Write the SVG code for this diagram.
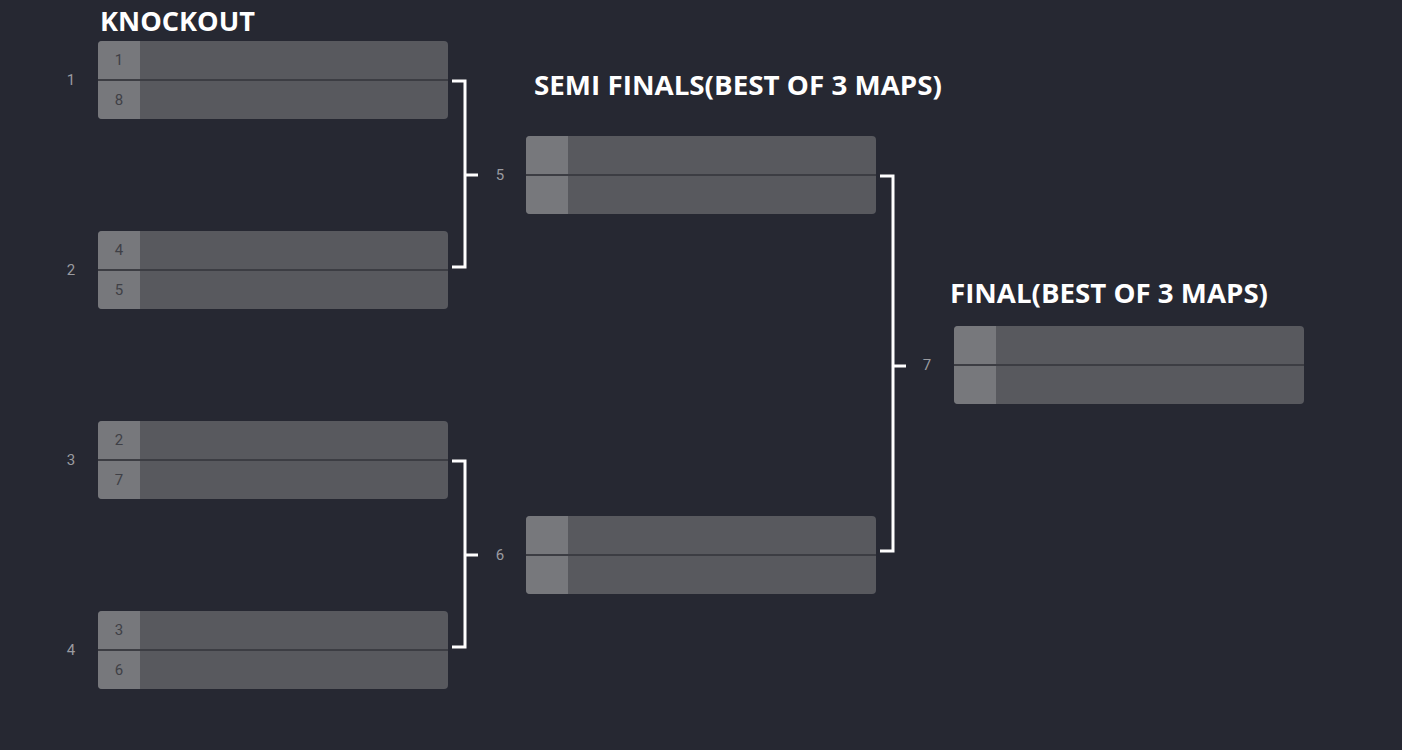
<svg xmlns="http://www.w3.org/2000/svg" width="1402" height="750" viewBox="0 0 1402 750">
<defs>
<style>
.bg{fill:#262832}
.box{fill:#58595e}
.seed{fill:#77787c}
.div{stroke:#3c3d43;stroke-width:2}
.title{font-family:"Open Sans","Liberation Sans",sans-serif;font-weight:700;font-size:27px;fill:#ffffff}
.num{font-family:"Roboto","Liberation Sans",sans-serif;font-size:15px;fill:#3f4046;text-anchor:middle;dominant-baseline:central}
.lbl{font-family:"Roboto","Liberation Sans",sans-serif;font-size:15px;fill:#9a9ba0;text-anchor:middle;dominant-baseline:central}
.con{fill:none;stroke:#ffffff;stroke-width:3}
</style>
<clipPath id="c1"><rect x="0" y="0" width="350" height="78" rx="4"/></clipPath>
<g id="matchShape">
<rect x="0" y="0" width="350" height="78" rx="4" class="box"/>
<rect x="0" y="0" width="42" height="78" class="seed" clip-path="url(#c1)"/>
<line x1="0" y1="39" x2="350" y2="39" class="div"/>
</g>
</defs>
<rect class="bg" x="0" y="0" width="1402" height="750"/>
<g id="titles">
<text class="title" x="100" y="31" textLength="155" lengthAdjust="spacingAndGlyphs">KNOCKOUT</text>
<text class="title" x="534" y="95" textLength="408" lengthAdjust="spacingAndGlyphs">SEMI FINALS(BEST OF 3 MAPS)</text>
<text class="title" x="950" y="303" textLength="318" lengthAdjust="spacingAndGlyphs">FINAL(BEST OF 3 MAPS)</text>
</g>
<g id="connectors">
<path class="con" d="M452 81 H465 V267 H452 M465 175 H478"/>
<path class="con" d="M452 461 H465 V647 H452 M465 555 H478"/>
<path class="con" d="M880 176 H893 V551 H880 M893 366 H906"/>
</g>
<g id="m1">
<use href="#matchShape" x="98" y="41"/>
<text class="lbl" x="71" y="80">1</text>
<text class="num" x="119" y="60">1</text>
<text class="num" x="119" y="100">8</text>
</g>
<g id="m2">
<use href="#matchShape" x="98" y="231"/>
<text class="lbl" x="71" y="270">2</text>
<text class="num" x="119" y="250">4</text>
<text class="num" x="119" y="290">5</text>
</g>
<g id="m3">
<use href="#matchShape" x="98" y="421"/>
<text class="lbl" x="71" y="460">3</text>
<text class="num" x="119" y="440">2</text>
<text class="num" x="119" y="480">7</text>
</g>
<g id="m4">
<use href="#matchShape" x="98" y="611"/>
<text class="lbl" x="71" y="650">4</text>
<text class="num" x="119" y="630">3</text>
<text class="num" x="119" y="670">6</text>
</g>
<g id="m5">
<use href="#matchShape" x="526" y="136"/>
<text class="lbl" x="500" y="175">5</text>
</g>
<g id="m6">
<use href="#matchShape" x="526" y="516"/>
<text class="lbl" x="500" y="555">6</text>
</g>
<g id="m7">
<use href="#matchShape" x="954" y="326"/>
<text class="lbl" x="927" y="365">7</text>
</g>
</svg>
